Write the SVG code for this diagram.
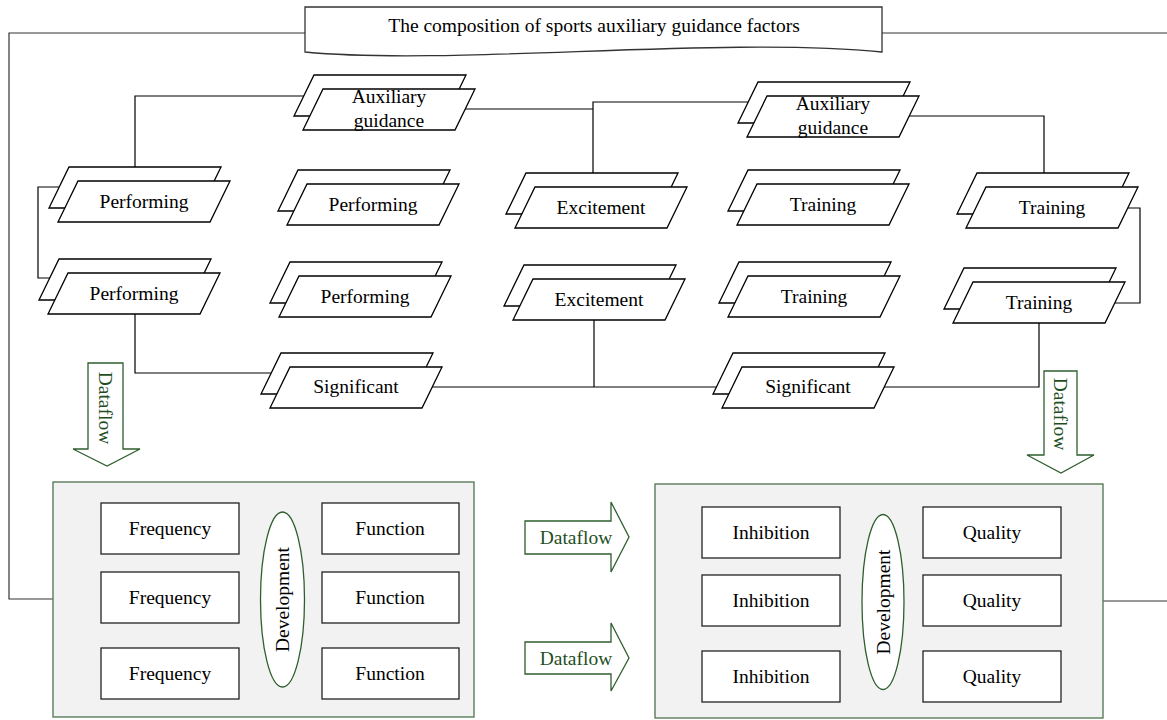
<svg xmlns="http://www.w3.org/2000/svg" xmlns:xlink="http://www.w3.org/1999/xlink" width="1167" height="720" viewBox="0 0 1167 720">
<style>
text{font-family:"Liberation Serif","Times New Roman",serif;font-size:19.5px;fill:#000;text-anchor:middle}
.pg{fill:#fff;stroke:#000;stroke-width:1.3}
.ln{fill:none;stroke:#000;stroke-width:1.2}
.gl{fill:none;stroke:#333;stroke-width:1.2}
.grp{fill:#f2f2f2;stroke:#5b7b5b;stroke-width:1.4}
.box{fill:#fff;stroke:#222;stroke-width:1.3}
.ell{fill:#fff;stroke:#2f5f2f;stroke-width:1.3}
.arr{fill:#fff;stroke:#2f5f2f;stroke-width:1.3}
.df{fill:#1f4f1f}
</style>
<defs>
<polygon id="pg" points="20,0 172,0 152,41 0,41"/>
</defs>
<rect width="1167" height="720" fill="#fff"/>

<g id="connectors">
<polyline class="gl" points="305,33 9,33 9,599 53,599"/>
<polyline class="gl" points="882,33 1167,33"/>
<polyline class="ln" points="135,167 135,96 304,96"/>
<polyline class="ln" points="59,187 38,187 38,278 50,278"/>
<polyline class="ln" points="135,314 135,373 271,373"/>
<polyline class="ln" points="465,109 593,109"/>
<polyline class="ln" points="593,173 593,102 748,102"/>
<polyline class="ln" points="909,116 1044,116 1044,173"/>
<polyline class="ln" points="1128,208 1140,208 1140,303 1115,303"/>
<polyline class="ln" points="1039,323 1039,387 884,387"/>
<polyline class="ln" points="432,387 716,387"/>
<polyline class="ln" points="594,320 594,387"/>
<polyline class="gl" points="1103,601 1167,601"/>
</g>

<g id="title">
<path d="M305,7 L882,7 L882,52 C720,36 450,66 305,52 Z" fill="#fff" stroke="#333" stroke-width="1.3"/>
<text x="594" y="32">The composition of sports auxiliary guidance factors</text>
</g>

<g id="aux1"><use href="#pg" class="pg" x="294" y="75"/><use href="#pg" class="pg" x="303" y="89"/><text x="389" y="103">Auxiliary</text><text x="389" y="127">guidance</text></g>
<g id="aux2"><use href="#pg" class="pg" x="738" y="82"/><use href="#pg" class="pg" x="747" y="96"/><text x="833" y="110">Auxiliary</text><text x="833" y="134">guidance</text></g>

<g id="perf1"><use href="#pg" class="pg" x="49" y="167"/><use href="#pg" class="pg" x="58" y="181"/><text x="144" y="208">Performing</text></g>
<g id="perf2"><use href="#pg" class="pg" x="39" y="259"/><use href="#pg" class="pg" x="48" y="273"/><text x="134" y="300">Performing</text></g>
<g id="perf3"><use href="#pg" class="pg" x="278" y="170"/><use href="#pg" class="pg" x="287" y="184"/><text x="373" y="211">Performing</text></g>
<g id="perf4"><use href="#pg" class="pg" x="270" y="262"/><use href="#pg" class="pg" x="279" y="276"/><text x="365" y="303">Performing</text></g>

<g id="exc1"><use href="#pg" class="pg" x="506" y="173"/><use href="#pg" class="pg" x="515" y="187"/><text x="601" y="214">Excitement</text></g>
<g id="exc2"><use href="#pg" class="pg" x="504" y="265"/><use href="#pg" class="pg" x="513" y="279"/><text x="599" y="306">Excitement</text></g>

<g id="tr1"><use href="#pg" class="pg" x="728" y="170"/><use href="#pg" class="pg" x="737" y="184"/><text x="823" y="211">Training</text></g>
<g id="tr2"><use href="#pg" class="pg" x="719" y="262"/><use href="#pg" class="pg" x="728" y="276"/><text x="814" y="303">Training</text></g>
<g id="tr3"><use href="#pg" class="pg" x="957" y="173"/><use href="#pg" class="pg" x="966" y="187"/><text x="1052" y="214">Training</text></g>
<g id="tr4"><use href="#pg" class="pg" x="944" y="268"/><use href="#pg" class="pg" x="953" y="282"/><text x="1039" y="309">Training</text></g>

<g id="sig1"><use href="#pg" class="pg" x="261" y="353"/><use href="#pg" class="pg" x="270" y="367"/><text x="356" y="393">Significant</text></g>
<g id="sig2"><use href="#pg" class="pg" x="713" y="353"/><use href="#pg" class="pg" x="722" y="367"/><text x="808" y="393">Significant</text></g>

<g id="df-down-left">
<polygon class="arr" points="88,363 123,363 123,449 140,449 107,466 73,449 88,449"/>
<text class="df" transform="translate(105.5,408) rotate(90)" y="6.5">Dataflow</text>
</g>
<g id="df-down-right">
<polygon class="arr" points="1044,371 1077,371 1077,455 1094,455 1061,473 1027,455 1044,455"/>
<text class="df" transform="translate(1060.5,414) rotate(90)" y="6.5">Dataflow</text>
</g>
<g id="df-right-1">
<polygon class="arr" points="525,521 611,521 611,502 629,537 611,572 611,554 525,554"/>
<text class="df" x="576" y="544">Dataflow</text>
</g>
<g id="df-right-2">
<polygon class="arr" points="525,642 611,642 611,623 629,658 611,691 611,674 525,674"/>
<text class="df" x="576" y="665">Dataflow</text>
</g>

<g id="group-left">
<rect class="grp" x="53" y="482" width="421" height="235"/>
<rect class="box" x="101" y="503" width="138" height="51"/><text x="170" y="535">Frequency</text>
<rect class="box" x="101" y="572" width="138" height="51"/><text x="170" y="604">Frequency</text>
<rect class="box" x="101" y="648" width="138" height="51"/><text x="170" y="680">Frequency</text>
<rect class="box" x="322" y="503" width="137" height="51"/><text x="390" y="535">Function</text>
<rect class="box" x="322" y="572" width="137" height="51"/><text x="390" y="604">Function</text>
<rect class="box" x="322" y="648" width="137" height="51"/><text x="390" y="680">Function</text>
<ellipse class="ell" cx="282.5" cy="599.5" rx="22" ry="87.5"/>
<text transform="translate(282.5,599.5) rotate(-90)" y="6.5">Development</text>
</g>

<g id="group-right">
<rect class="grp" x="655" y="484" width="448" height="234"/>
<rect class="box" x="702" y="507" width="138" height="51"/><text x="771" y="539">Inhibition</text>
<rect class="box" x="702" y="575" width="138" height="51"/><text x="771" y="607">Inhibition</text>
<rect class="box" x="702" y="651" width="138" height="51"/><text x="771" y="683">Inhibition</text>
<rect class="box" x="923" y="507" width="138" height="51"/><text x="992" y="539">Quality</text>
<rect class="box" x="923" y="575" width="138" height="51"/><text x="992" y="607">Quality</text>
<rect class="box" x="923" y="651" width="138" height="51"/><text x="992" y="683">Quality</text>
<ellipse class="ell" cx="883" cy="602" rx="21" ry="87.5"/>
<text transform="translate(883,602) rotate(-90)" y="6.5">Development</text>
</g>
</svg>
